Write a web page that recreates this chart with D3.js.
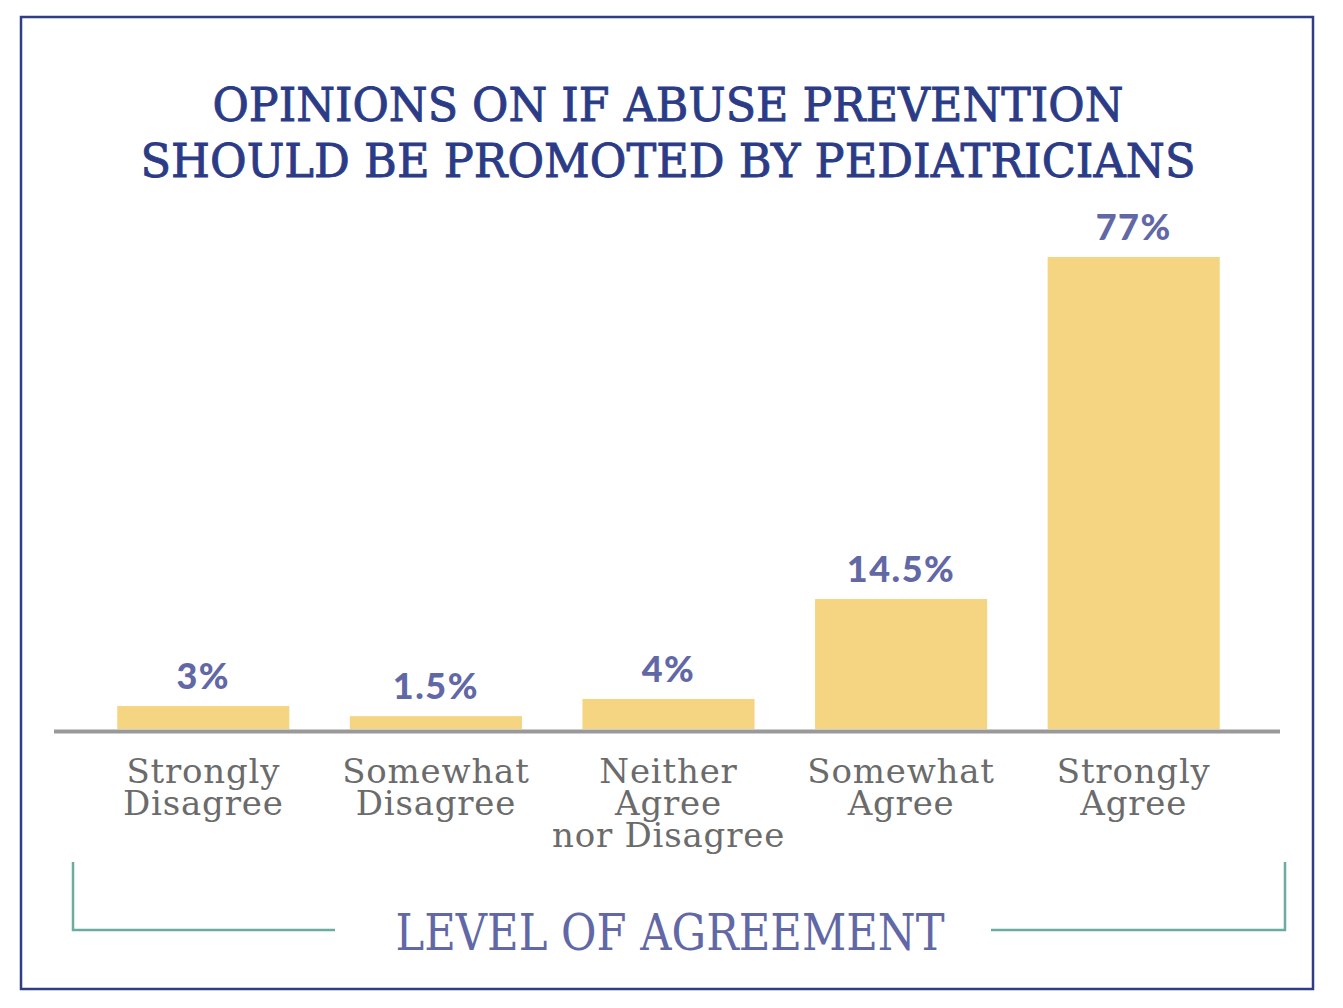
<!DOCTYPE html>
<html>
<head>
<meta charset="utf-8">
<script src="https://cdn.jsdelivr.net/npm/d3@7"></script>
<style>
  body { margin: 0; background: #fff; }
  svg { display: block; }
</style>
</head>
<body>
<div id="chart"></div>
<script>
// chart data
var categories = ["Strongly Disagree", "Somewhat Disagree", "Neither Agree nor Disagree", "Somewhat Agree", "Strongly Agree"];
var categoryLines = [["Strongly", "Disagree"], ["Somewhat", "Disagree"], ["Neither", "Agree", "nor Disagree"], ["Somewhat", "Agree"], ["Strongly", "Agree"]];
var valueLabels = ["3%", "1.5%", "4%", "14.5%", "77%"];
// heights as drawn in the picture (the bars are not to scale with their labels)
var barValues = [3.75, 2.1, 4.9, 21.2, 77];
var titleLines = ["OPINIONS ON IF ABUSE PREVENTION", "SHOULD BE PROMOTED BY PEDIATRICIANS"];
var axisTitle = "LEVEL OF AGREEMENT";

var W = 1343, H = 1008;
var svg = d3.select("#chart").append("svg")
    .attr("width", W)
    .attr("height", H);

// frame
svg.append("rect")
    .attr("x", 21).attr("y", 17)
    .attr("width", 1292).attr("height", 972)
    .style("fill", "none")
    .style("stroke", "#2e3d86")
    .style("stroke-width", 2.5);

// title
svg.selectAll(".title")
    .data(titleLines)
    .enter().append("text")
    .attr("class", "title")
    .attr("x", 668)
    .attr("y", function (d, i) { return 121 + i * 56; })
    .attr("text-anchor", "middle")
    .attr("textLength", function (d, i) { return i == 0 ? 911 : 1055; })
    .attr("lengthAdjust", "spacingAndGlyphs")
    .style("font-family", "'DejaVu Serif'")
    .style("font-size", "47px")
    .style("fill", "#2b3b86")
    .style("stroke", "#2b3b86")
    .style("stroke-width", 0.9)
    .text(function (d) { return d; });

var x = d3.scaleBand()
    .domain(categories)
    .range([87, 1250])
    .paddingInner(0.26)
    .paddingOuter(0.13);

var y = d3.scaleLinear()
    .domain([0, 77])
    .range([729, 257]);

// bars
svg.selectAll(".bar")
    .data(categories)
    .enter().append("rect")
    .attr("class", "bar")
    .attr("x", function (d) { return x(d); })
    .attr("y", function (d, i) { return y(barValues[i]); })
    .attr("width", x.bandwidth())
    .attr("height", function (d, i) { return y(0) - y(barValues[i]); })
    .style("fill", "#f5d582");

// value labels
svg.selectAll(".val")
    .data(categories)
    .enter().append("text")
    .attr("class", "val")
    .attr("x", function (d) { return x(d) + x.bandwidth() / 2; })
    .attr("y", function (d, i) { return y(barValues[i]) - 17; })
    .attr("text-anchor", "middle")
    .style("font-family", "Lato")
    .style("font-weight", "900")
    .style("font-size", "36px")
    .style("letter-spacing", "1.5px")
    .style("fill", "#6268a6")
    .text(function (d, i) { return valueLabels[i]; });

// baseline
svg.append("line")
    .attr("x1", 54).attr("x2", 1280)
    .attr("y1", 731.5).attr("y2", 731.5)
    .style("stroke", "#999")
    .style("stroke-width", 4);

// category labels via axis
var xAxis = svg.append("g")
    .attr("transform", "translate(0,731)")
    .call(d3.axisBottom(x).tickSize(0).tickPadding(0));
xAxis.select(".domain").remove();
xAxis.selectAll(".tick text").each(function (d, i) {
    var t = d3.select(this);
    t.text(null)
        .attr("y", 0)
        .attr("dy", null)
        .style("font-family", "'DejaVu Serif'")
        .style("font-size", "34px")
        .style("letter-spacing", "0.8px")
        .style("fill", "#6b6b6b");
    categoryLines[i].forEach(function (line, k) {
        t.append("tspan")
            .attr("x", 0)
            .attr("y", 52 + k * 32)
            .text(line);
    });
});

// bracket under axis
var bracket = svg.append("g")
    .style("stroke", "#6aada0")
    .style("stroke-width", 2.5)
    .style("fill", "none");
bracket.append("path").attr("d", "M73,862V930H335");
bracket.append("path").attr("d", "M991,930H1285V862");

svg.append("text")
    .attr("x", 670)
    .attr("y", 950)
    .attr("text-anchor", "middle")
    .attr("textLength", 549)
    .attr("lengthAdjust", "spacingAndGlyphs")
    .style("font-family", "'DejaVu Serif'")
    .style("font-size", "50px")
    .style("fill", "#6268a6")
    .text(axisTitle);
</script>
</body>
</html>
